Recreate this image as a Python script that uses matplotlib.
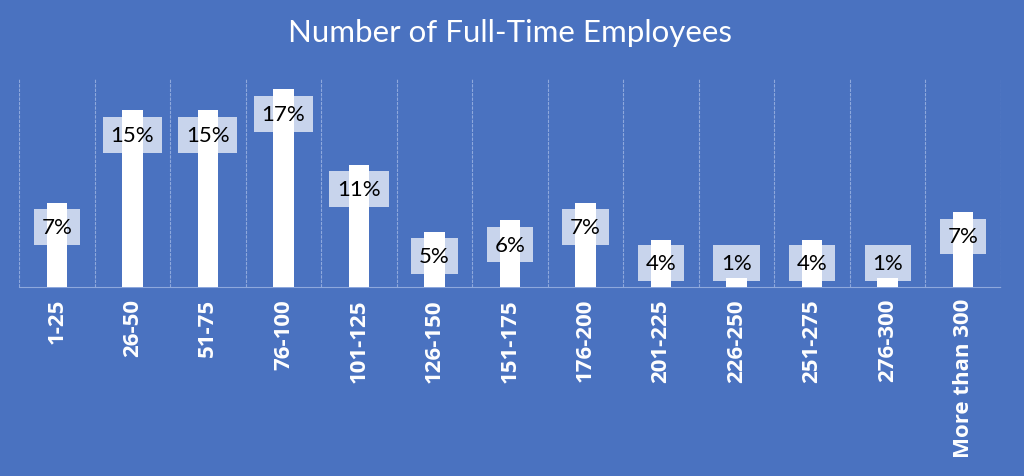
import matplotlib.pyplot as plt
import matplotlib.ticker as ticker

# Data
categories = ["1-25", "26-50", "51-75", "76-100", "101-125", "126-150", "151-175",
              "176-200", "201-225", "226-250", "251-275", "276-300", "More than 300"]
shares = [7.3, 15.3, 15.3, 17.1, 10.6, 4.8, 5.8, 7.3, 4.1, 0.8, 4.1, 0.8, 6.5]
labels = ["7%", "15%", "15%", "17%", "11%", "5%", "6%", "7%", "4%", "1%", "4%", "1%", "7%"]

bg = "#4A72C0"
font = ["Lato", "DejaVu Sans"]
plt.rcParams["font.family"] = font

fig = plt.figure(figsize=(10.24, 4.77), dpi=100, facecolor=bg)
ax = fig.add_axes([19 / 1024, 189 / 477, 982 / 1024, 208 / 477])
ax.set_facecolor(bg)

x = list(range(len(categories)))
ax.bar(x, shares, width=0.27, color="white", zorder=3)

ax.set_xlim(-0.5, len(categories) - 0.5)
ax.set_ylim(0, 18)

# category separators
ax.xaxis.set_minor_locator(ticker.FixedLocator([i - 0.5 for i in range(len(categories) + 1)]))
ax.grid(axis="x", which="minor", color="#8EA8DC", linestyle=(0, (3, 1)), linewidth=0.8, zorder=1)
ax.set_xticks(x)
ax.set_xticklabels(categories, rotation=90, color="white", fontsize=16,
                   fontweight="bold", family=["Open Sans", "DejaVu Sans"])
ax.tick_params(axis="x", which="both", length=0, pad=8)
ax.set_yticks([])
for side in ["top", "right", "left"]:
    ax.spines[side].set_visible(False)
ax.spines["bottom"].set_color("#8EA8DC")
ax.spines["bottom"].set_linestyle((0, (3, 1)))
ax.spines["bottom"].set_linewidth(0.8)

# data labels, inside end, kept above the axis for short bars
box = dict(boxstyle="square,pad=0.35", fc="white", ec="none", alpha=0.7)
for xi, v, lab in zip(x, shares, labels):
    if v > 4.5:
        ax.annotate(lab, (xi, v), xytext=(0, -10.5), textcoords="offset points",
                    ha="center", va="top", fontsize=16, color="black", zorder=4, bbox=box)
    else:
        ax.annotate(lab, (xi, 0), xytext=(0, 10), textcoords="offset points",
                    ha="center", va="bottom", fontsize=16, color="black", zorder=4, bbox=box)

fig.text(510 / 1024, 1 - 33 / 477, "Number of Full-Time Employees", ha="center", va="center",
         color="white", fontsize=22.5)

fig.savefig("out.png", dpi=100, facecolor=bg)
